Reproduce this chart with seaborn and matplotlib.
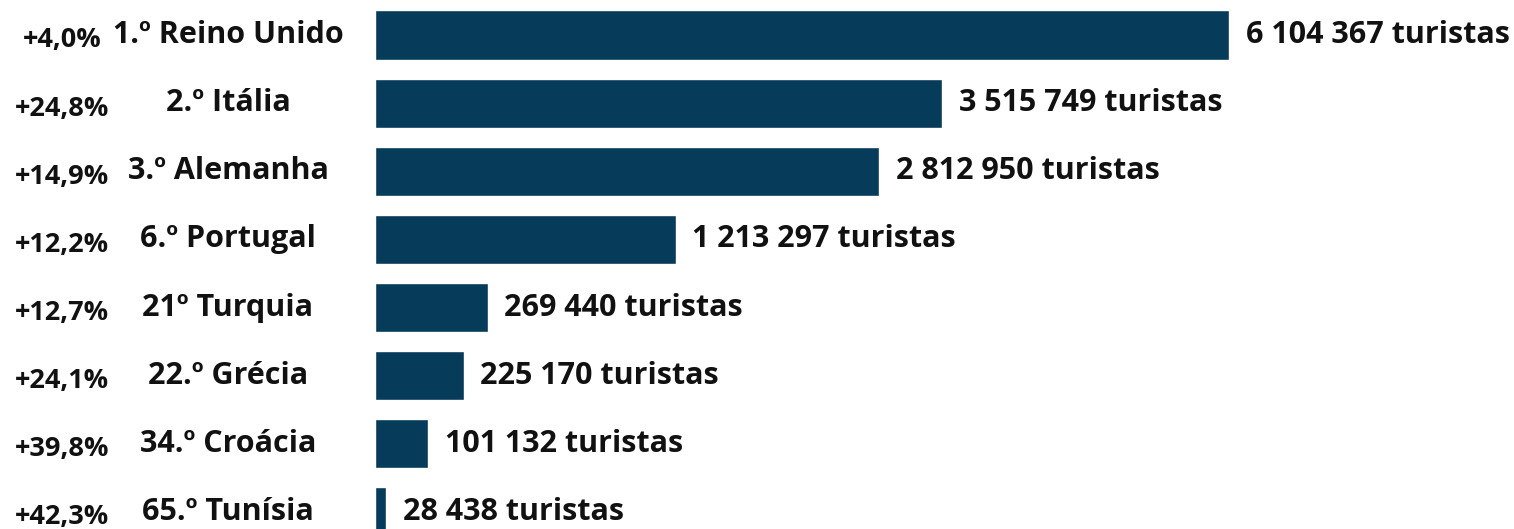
import matplotlib
matplotlib.use("Agg")
import matplotlib.pyplot as plt
import matplotlib.transforms as mtransforms
import seaborn as sns
import pandas as pd

# ---- data ----
ranks = ["1.º", "2.º", "3.º", "6.º", "21º", "22.º", "34.º", "65.º"]
countries = ["Reino Unido", "Itália", "Alemanha", "Portugal", "Turquia", "Grécia", "Croácia", "Tunísia"]
growth = ["+4,0%", "+24,8%", "+14,9%", "+12,2%", "+12,7%", "+24,1%", "+39,8%", "+42,3%"]
tourists = [6104367, 3515749, 2812950, 1213297, 269440, 225170, 101132, 28438]
# bar lengths as drawn in the infographic (relative, longest = 100)
bar_length = [100, 66.4, 59.0, 35.2, 13.2, 10.4, 6.2, 1.3]

sns.set_style("white")
plt.rcParams["font.family"] = ["Open Sans", "DejaVu Sans"]
plt.rcParams["font.weight"] = "bold"

BAR_COLOR = "#073B5A"

names = [f"{r} {c}" for r, c in zip(ranks, countries)]
df = pd.DataFrame({"name": names, "len": bar_length})

W, H = 1514, 529
fig = plt.figure(figsize=(W / 100, H / 100), dpi=100)
left_px = 375
ax = fig.add_axes([left_px / W, 0, 1 - left_px / W, 1])

sns.barplot(data=df, x="len", y="name", hue="name", palette=[BAR_COLOR] * len(df),
            legend=False, width=0.72, ax=ax, saturation=1)

ax.set_xlim(0, 100 * (W - left_px) / 854)
ax.set_ylim(7.25, -0.514)
ax.axis("off")

def fmt(n):
    return f"{n:,}".replace(",", " ") + " turistas"

for i, (L, n) in enumerate(zip(bar_length, tourists)):
    ax.annotate(fmt(n), xy=(L, i), xytext=(12, 0), textcoords="offset points",
                ha="left", va="center", fontsize=22, fontweight="bold", color="#111111")

blend = mtransforms.blended_transform_factory(fig.transFigure, ax.transData)
for i, (g, nm) in enumerate(zip(growth, names)):
    fig.text(62 / W, i + 0.08, g, transform=blend, ha="center", va="center",
             fontsize=19.5, fontweight="bold", color="#111111")
    fig.text(228 / W, i, nm, transform=blend, ha="center", va="center",
             fontsize=22, fontweight="bold", color="#111111")

fig.savefig("out.png", dpi=100, facecolor="white")
